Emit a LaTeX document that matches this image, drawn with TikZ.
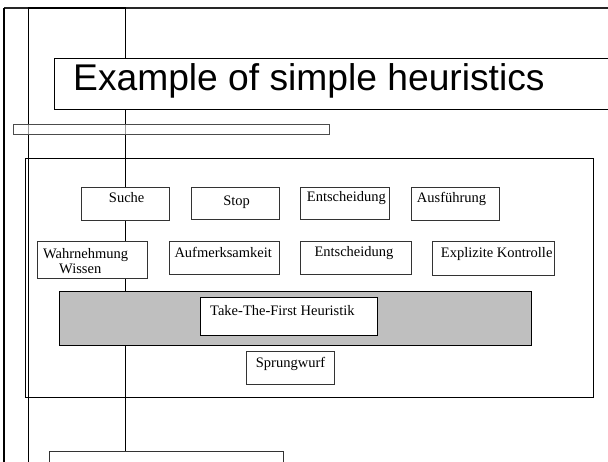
\documentclass[tikz,border=0pt]{standalone}
\usepackage{fontspec}
\setmainfont{Liberation Serif}
\newfontfamily\titlefont{Liberation Sans}
\begin{document}
\begin{tikzpicture}[x={(1pt,0pt)},y={(0pt,-1pt)},
  box/.style={draw=black!80,line width=0.8pt,fill=white,inner sep=0pt,anchor=north west},
  lbl/.style={inner sep=0pt,anchor=base west,font=\fontsize{14.5}{17}\selectfont},
  thinline/.style={draw=black,line width=0.8pt}]
\clip (0,0) rectangle (608,462);
\fill[white] (0,0) rectangle (608,462);
% outer frame
\coordinate (ofbl) at (4.3,462);
\coordinate (oftl) at (4.3,8.5);
\coordinate (oftr) at (608,8.5);
\draw[black!85,line width=2pt] (oftr) -- (oftl);
\draw[black,line width=2.2pt] (ofbl) -- (oftl);
\coordinate (ta) at (28,8);
\coordinate (tb) at (125.7,8);
\draw[black,line width=2.6pt] (ta) -- (tb);
% vertical guide lines
\coordinate (va) at (28.5,8);
\coordinate (vb) at (28.5,462);
\draw[thinline] (va) -- (vb);
% big frame
\node[draw=black,line width=0.8pt,inner sep=0pt,anchor=north west,minimum width=567.2pt,minimum height=238.8pt] (frame) at (25.3,158.5) {};
% bottom box
\node[box,minimum width=234.3pt,minimum height=40pt] (bottom) at (49,450.7) {};
\coordinate (vtop) at (125.7,8);
\draw[thinline] (vtop) -- (bottom.north -| vtop);
% title
\node[box,draw=black,minimum width=560pt,minimum height=51pt] (title) at (54,58.3) {};
\node[inner sep=0pt,anchor=base west,font=\titlefont\fontsize{37.2}{40}\selectfont] (titletext) at (73,90.7) {Example of simple heuristics};
% thin bar
\node[draw=black!70,line width=1pt,fill=white,fill opacity=0.6,inner sep=0pt,anchor=north west,minimum width=316pt,minimum height=10pt] (bar) at (13.3,124.5) {};
% row 1
\node[box,minimum width=88.3pt,minimum height=33.3pt] (b1) at (81,186.7) {};
\node[lbl,anchor=base] (t1) at (126.7,202.7) {Suche};
\node[box,minimum width=88.3pt,minimum height=32.6pt] (b2) at (190.7,186.7) {};
\node[lbl,anchor=base] (t2) at (236.7,206) {Stop};
\node[box,minimum width=88.7pt,minimum height=32.6pt] (b3) at (300.3,186.7) {};
\node[lbl] (t3) at (306.7,201.7) {Entscheidung};
\node[box,minimum width=88pt,minimum height=33.3pt] (b4) at (410.7,186.7) {};
\node[lbl] (t4) at (416.7,203) {Ausführung};
% row 2
\node[box,minimum width=110pt,minimum height=36.4pt] (c1) at (37,241.3) {};
\node[lbl] (s1a) at (43,258.3) {Wahrnehmung};
\node[lbl] (s1b) at (59,274) {Wissen};
\node[box,minimum width=109.7pt,minimum height=33.2pt] (c2) at (169.3,241.3) {};
\node[lbl] (s2) at (174.3,258) {Aufmerksamkeit};
\node[box,minimum width=110.4pt,minimum height=33.2pt] (c3) at (300.3,241.3) {};
\node[lbl] (s3) at (314.3,256.7) {Entscheidung};
\node[box,minimum width=121.4pt,minimum height=33.4pt] (c4) at (432.3,241.3) {};
\node[lbl] (s4) at (440.7,258) {Explizite Kontrolle};
% gray band
\node[box,draw=black,fill=black!25,minimum width=472pt,minimum height=53.8pt] (band) at (59.3,291.5) {};
\node[box,draw=black,minimum width=176.4pt,minimum height=38.3pt] (ttf) at (200.3,296.7) {};
\node[lbl] (ttftext) at (210,316) {Take-The-First Heuristik};
% Sprungwurf
\node[box,minimum width=88pt,minimum height=33.3pt] (sw) at (245.7,351) {};
\node[lbl] (swtext) at (255.7,367.3) {Sprungwurf};
\end{tikzpicture}
\end{document}
